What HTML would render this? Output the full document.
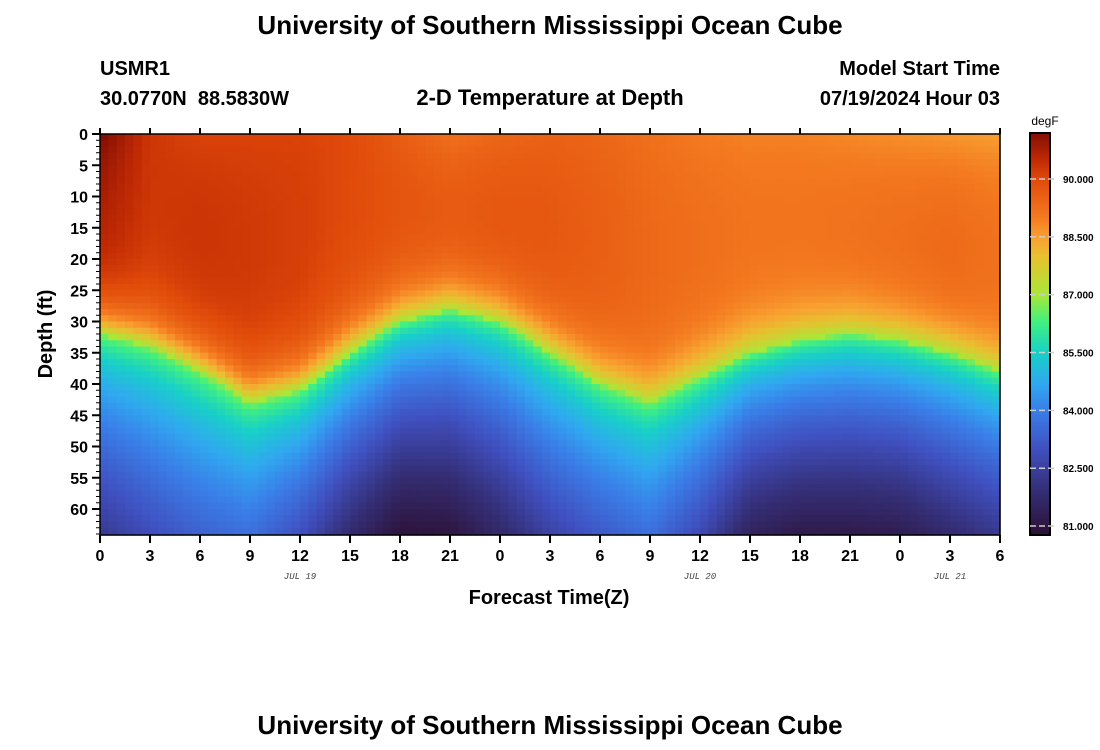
<!DOCTYPE html>
<html><head><meta charset="utf-8"><style>
html,body{margin:0;padding:0;background:#fff;}
svg{display:block;font-family:"Liberation Sans",Arial,sans-serif;}
</style></head><body>
<svg id="chart" width="1100" height="750" viewBox="0 0 1100 750">
<rect width="1100" height="750" fill="#fff"/>
<text x="550" y="34" text-anchor="middle" font-size="26" font-weight="bold">University of Southern Mississippi Ocean Cube</text>
<text x="100" y="75" font-size="20" font-weight="bold">USMR1</text>
<text x="100" y="105" font-size="20" font-weight="bold" xml:space="preserve">30.0770N  88.5830W</text>
<text x="550" y="105" text-anchor="middle" font-size="22" font-weight="bold">2-D Temperature at Depth</text>
<text x="1000" y="75" text-anchor="end" font-size="20" font-weight="bold">Model Start Time</text>
<text x="1000" y="105" text-anchor="end" font-size="20" font-weight="bold">07/19/2024 Hour 03</text>
<g id="heat"></g>
<g id="axes"></g>
<g id="cbar"></g>
<text x="549" y="604" text-anchor="middle" font-size="20" font-weight="bold">Forecast Time(Z)</text>
<text transform="translate(52,334) rotate(-90)" text-anchor="middle" font-size="20" font-weight="bold">Depth (ft)</text>
<text x="550" y="734" text-anchor="middle" font-size="26" font-weight="bold">University of Southern Mississippi Ocean Cube</text>
</svg>
<script>
// key hours (hours since start)
const keyHours = [0,3,6,9,12,15,18,21,24,27,30,33,36,39,42,45,48,51,54];
// depth (ft) of the 87 degF contour
const thermoDepth = [32,34,38,43,41,35,30,28,30,35,40,43,39,35,33,32,33,35,38];
// surface temperature (degF)
const surfaceTemp = [91.3,90.3,90.1,90.1,90.1,90.0,89.6,89.2,89.4,89.5,89.4,89.2,89.0,88.9,88.9,88.8,88.7,88.6,88.5];
// mixed-layer temperature (degF)
const mixedTemp = [90.6,90.3,90.4,90.3,90.2,90.0,89.9,89.9,89.9,89.8,89.6,89.4,89.3,89.2,89.2,89.3,89.4,89.5,89.3];
// bottom temperature at 64 ft (degF)
const bottomTemp = [82.3,82.9,83.4,83.7,83.0,81.8,80.9,81.0,81.7,82.6,83.2,83.7,82.8,81.5,81.2,81.2,81.3,81.8,82.3];
const xTickLabels = ["0","3","6","9","12","15","18","21","0","3","6","9","12","15","18","21","0","3","6"];
const yTickLabels = [0,5,10,15,20,25,30,35,40,45,50,55,60];
const dateLabels = [{h:12,t:"JUL 19"},{h:36,t:"JUL 20"},{h:51,t:"JUL 21"}];
const cbarTicks = [81,82.5,84,85.5,87,88.5,90];

const NS="http://www.w3.org/2000/svg";
const X0=100,X1=1000,Y0=134,YB=535,HMAX=54,DMAX=(YB-Y0)/6.25;
const xs=h=>X0+h*(X1-X0)/HMAX;
const ys=d=>Y0+d*6.25;
const CB_TOP=133,CB_BOT=535;
const cy=t=>179+(90-t)*38.56;
const stops=[[80.8,[44,18,58]],[81,[46,22,64]],[82,[53,48,122]],[83,[64,80,192]],[84,[58,126,232]],[84.7,[48,168,240]],[85.5,[24,208,200]],[86.3,[64,240,128]],[87,[168,232,56]],[88,[232,192,48]],[88.5,[248,160,48]],[89,[244,122,32]],[90,[224,74,10]],[90.5,[192,42,4]],[91.3,[122,10,4]]];
function color(t){
  if(t<=stops[0][0])return`rgb(${stops[0][1]})`;
  for(let i=1;i<stops.length;i++){if(t<=stops[i][0]){const a=stops[i-1],b=stops[i],f=(t-a[0])/(b[0]-a[0]);
    return`rgb(${a[1].map((v,k)=>Math.round(v+(b[1][k]-v)*f)).join(",")})`;}}
  return`rgb(${stops[stops.length-1][1]})`;
}
function interp(arr,h){
  for(let i=1;i<keyHours.length;i++){if(h<=keyHours[i]){const f=(h-keyHours[i-1])/(keyHours[i]-keyHours[i-1]);return arr[i-1]+(arr[i]-arr[i-1])*f;}}
  return arr[arr.length-1];
}
function mk(tag,attrs,parent){const e=document.createElementNS(NS,tag);for(const k in attrs)e.setAttribute(k,attrs[k]);parent.appendChild(e);return e;}
const heat=document.getElementById('heat');
const dh=0.5,dd=1;
for(let h=0;h<HMAX;h+=dh){
  const hm=h+dh/2;
  const D=interp(thermoDepth,hm),Ts=interp(surfaceTemp,hm),Tm=interp(mixedTemp,hm),Tb=interp(bottomTemp,hm);
  for(let d=0;d<DMAX;d+=dd){
    const dm=d+dd/2;
    let t;
    if(dm<D){
      t=87+(Tm-87)*(1-Math.exp(-(D-dm)/4.5));
      t+=(Ts-Tm)*Math.exp(-dm/9);
    } else {
      const f=Math.min(1,(dm-D)/(64-D));
      t=87-(87-Tb)*Math.pow(f,0.55);
    }
    const r=mk('rect',{x:xs(h).toFixed(2),y:ys(d).toFixed(2),width:(xs(dh)-X0+0.6).toFixed(2),height:(Math.min(ys(d+dd),YB)-ys(d)+0.6).toFixed(2),fill:color(t)},heat);
    
    
  }
}
const ax=document.getElementById('axes');
const frame=mk('rect',{x:X0,y:Y0,width:X1-X0,height:YB-Y0,fill:'none',stroke:'#000','stroke-width':1.5},ax);


xTickLabels.forEach((lab,i)=>{
  const x=xs(i*3);
  mk('line',{x1:x,x2:x,y1:YB,y2:YB+8,stroke:'#000','stroke-width':2},ax);
  mk('line',{x1:x,x2:x,y1:Y0,y2:Y0-6,stroke:'#000','stroke-width':2},ax);
  const t=mk('text',{x:x,y:YB+26,'text-anchor':'middle','font-size':16,'font-weight':'bold'},ax);
  t.textContent=lab;
  
  
});
for(let d=0;d<=64;d++){
  const y=ys(d);const major=d%5===0;
  mk('line',{x1:X0,x2:X0-(major?8:4),y1:y,y2:y,stroke:'#000','stroke-width':major?2:1},ax);
}
yTickLabels.forEach(d=>{
  const t=mk('text',{x:X0-12,y:ys(d)+6,'text-anchor':'end','font-size':16,'font-weight':'bold'},ax);
  t.textContent=d;
  
  
});
dateLabels.forEach(o=>{
  const t=mk('text',{x:xs(o.h),y:579,'text-anchor':'middle','font-size':9,'font-style':'italic','font-family':'Liberation Mono,monospace',fill:'#444'},ax);
  t.textContent=o.t;
  
  
});
const cb=document.getElementById('cbar');
for(let y=CB_TOP;y<CB_BOT;y+=2){
  const t=90-((y+1)-179)/38.56;
  mk('rect',{x:1030,y:y,width:20,height:2.5,fill:color(t)},cb);
}
const cbf=mk('rect',{x:1030,y:CB_TOP,width:20,height:CB_BOT-CB_TOP,fill:'none',stroke:'#000','stroke-width':2},cb);


cbarTicks.forEach(v=>{
  const y=cy(v);
  mk('line',{x1:1030,x2:1055,y1:y,y2:y,stroke:'#ccc','stroke-width':1.5,'stroke-dasharray':'6,3'},cb);
  const t=mk('text',{x:1063,y:y+4,'font-size':10,'font-weight':'bold'},cb);
  t.textContent=v.toFixed(3);
  
  
});
const u=mk('text',{x:1045,y:125,'text-anchor':'middle','font-size':12},cb);
u.textContent='degF';


</script>
</body></html>
